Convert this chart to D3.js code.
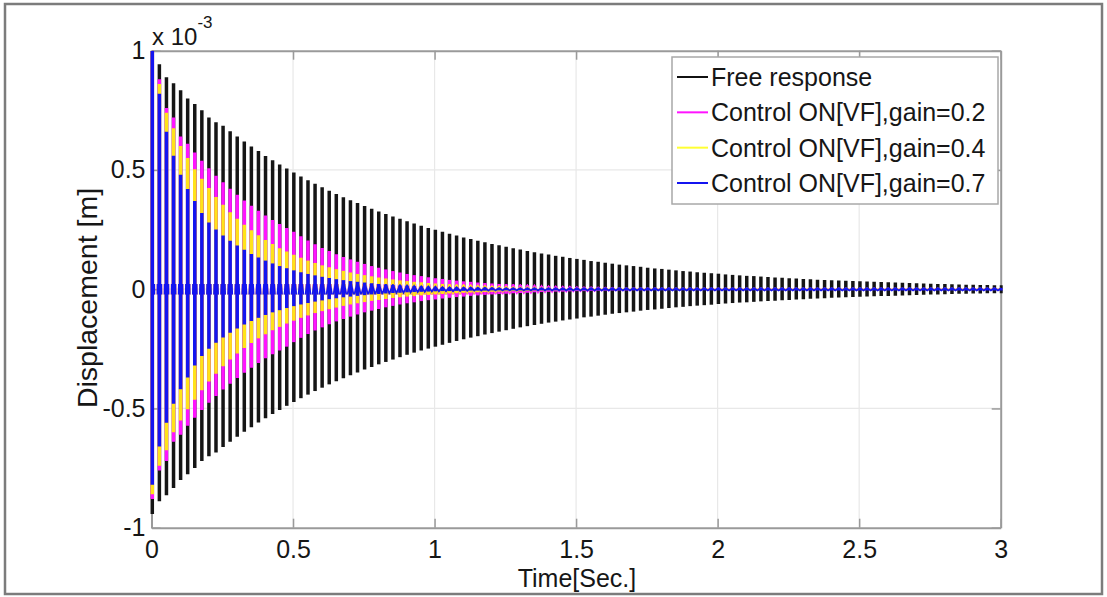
<!DOCTYPE html>
<html>
<head>
<meta charset="utf-8">
<script src="https://cdn.jsdelivr.net/npm/d3@7"></script>
<style>
  html, body { margin: 0; padding: 0; background: #fff; }
  svg { display: block; font-family: "Liberation Sans", Arial, Helvetica, sans-serif; }
</style>
</head>
<body>
<svg id="chart" width="1107" height="597"></svg>
<script>
// Peak displacement of each oscillation cycle (units of 1e-3 m), one value per cycle
const freeResponse = [
  1.000, 0.943, 0.889, 0.864, 0.834, 0.800, 0.776, 0.750, 0.720, 0.700,
  0.685, 0.662, 0.640, 0.619, 0.598, 0.579, 0.559, 0.541, 0.523, 0.506,
  0.489, 0.473, 0.457, 0.442, 0.427, 0.413, 0.399, 0.386, 0.373, 0.361,
  0.349, 0.337, 0.326, 0.315, 0.305, 0.295, 0.285, 0.275, 0.266, 0.257,
  0.249, 0.241, 0.233, 0.225, 0.217, 0.210, 0.203, 0.197, 0.190, 0.184,
  0.178, 0.172, 0.166, 0.160, 0.155, 0.150, 0.145, 0.140, 0.136, 0.131,
  0.127, 0.123, 0.118, 0.115, 0.111, 0.107, 0.103, 0.100, 0.097, 0.094,
  0.090, 0.087, 0.085, 0.082, 0.079, 0.076, 0.074, 0.071, 0.069, 0.067,
  0.065, 0.062, 0.060, 0.058, 0.056, 0.055, 0.053, 0.051, 0.049, 0.048,
  0.046, 0.045, 0.043, 0.042, 0.040, 0.039, 0.038, 0.036, 0.035, 0.034,
  0.033, 0.032, 0.031, 0.030, 0.029, 0.028, 0.027, 0.026, 0.025, 0.024,
  0.023, 0.022, 0.022, 0.021, 0.020, 0.019, 0.019, 0.018, 0.018, 0.017,
  0.017
];
const gain02 = [
  1.000, 0.880, 0.760, 0.720, 0.640, 0.610, 0.573, 0.539, 0.507, 0.476,
  0.448, 0.421, 0.396, 0.372, 0.350, 0.329, 0.309, 0.290, 0.273, 0.257,
  0.241, 0.222, 0.204, 0.188, 0.173, 0.160, 0.147, 0.135, 0.125, 0.115,
  0.106, 0.097, 0.090, 0.083, 0.076, 0.070, 0.064, 0.059, 0.055, 0.050,
  0.046, 0.043, 0.039, 0.036, 0.033, 0.031, 0.028, 0.026, 0.024, 0.022,
  0.020, 0.019, 0.017, 0.016, 0.015, 0.013, 0.012, 0.011, 0.010, 0.010,
  0.009, 0.008, 0.008, 0.007, 0.006, 0.006, 0.005, 0.005, 0.005, 0.004,
  0.004, 0.004, 0.003, 0.003, 0.003, 0.003, 0.003, 0.003, 0.003, 0.003,
  0.003, 0.003, 0.003, 0.003, 0.003, 0.003, 0.003, 0.003, 0.003, 0.003,
  0.003, 0.003, 0.003, 0.003, 0.003, 0.003, 0.003, 0.003, 0.003, 0.003,
  0.003, 0.003, 0.003, 0.003, 0.003, 0.003, 0.003, 0.003, 0.003, 0.003,
  0.003, 0.003, 0.003, 0.003, 0.003, 0.003, 0.003, 0.003, 0.003, 0.003,
  0.003
];
const gain04 = [
  1.000, 0.860, 0.740, 0.675, 0.600, 0.550, 0.503, 0.463, 0.424, 0.387,
  0.354, 0.323, 0.295, 0.270, 0.247, 0.226, 0.206, 0.189, 0.172, 0.158,
  0.144, 0.132, 0.120, 0.110, 0.100, 0.092, 0.084, 0.077, 0.070, 0.064,
  0.059, 0.054, 0.049, 0.045, 0.041, 0.037, 0.034, 0.031, 0.029, 0.026,
  0.024, 0.022, 0.020, 0.018, 0.017, 0.015, 0.014, 0.013, 0.012, 0.011,
  0.010, 0.009, 0.008, 0.008, 0.007, 0.006, 0.006, 0.005, 0.005, 0.004,
  0.004, 0.004, 0.004, 0.003, 0.003, 0.003, 0.003, 0.003, 0.003, 0.003,
  0.003, 0.003, 0.003, 0.003, 0.003, 0.003, 0.003, 0.003, 0.003, 0.003,
  0.003, 0.003, 0.003, 0.003, 0.003, 0.003, 0.003, 0.003, 0.003, 0.003,
  0.003, 0.003, 0.003, 0.003, 0.003, 0.003, 0.003, 0.003, 0.003, 0.003,
  0.003, 0.003, 0.003, 0.003, 0.003, 0.003, 0.003, 0.003, 0.003, 0.003,
  0.003, 0.003, 0.003, 0.003, 0.003, 0.003, 0.003, 0.003, 0.003, 0.003,
  0.003
];
const gain07 = [
  1.000, 0.820, 0.660, 0.560, 0.480, 0.420, 0.370, 0.320, 0.280, 0.250,
  0.225, 0.203, 0.183, 0.165, 0.148, 0.133, 0.120, 0.108, 0.097, 0.088,
  0.079, 0.071, 0.064, 0.058, 0.052, 0.047, 0.042, 0.038, 0.034, 0.031,
  0.028, 0.025, 0.022, 0.020, 0.018, 0.016, 0.015, 0.013, 0.012, 0.011,
  0.010, 0.009, 0.008, 0.008, 0.007, 0.007, 0.006, 0.006, 0.006, 0.005,
  0.005, 0.005, 0.005, 0.005, 0.005, 0.005, 0.005, 0.005, 0.005, 0.005,
  0.005, 0.005, 0.005, 0.005, 0.005, 0.005, 0.005, 0.005, 0.005, 0.005,
  0.005, 0.005, 0.005, 0.005, 0.005, 0.005, 0.005, 0.005, 0.005, 0.005,
  0.005, 0.005, 0.005, 0.005, 0.005, 0.005, 0.005, 0.005, 0.005, 0.005,
  0.005, 0.005, 0.005, 0.005, 0.005, 0.005, 0.005, 0.005, 0.005, 0.005,
  0.005, 0.005, 0.005, 0.005, 0.005, 0.005, 0.005, 0.005, 0.005, 0.005,
  0.005, 0.005, 0.005, 0.005, 0.005, 0.005, 0.005, 0.005, 0.005, 0.005,
  0.005
];
const cycleStep = 0.025;   // seconds between successive peaks (40 Hz)

const seriesNames = [
  "Free response",
  "Control ON[VF],gain=0.2",
  "Control ON[VF],gain=0.4",
  "Control ON[VF],gain=0.7"
];
const seriesColors = ["#151515", "#ff14ff", "#ffe31a", "#1414f0"];
const legendColors = ["#111111", "#ff14ff", "#ffff33", "#1414f0"];

const xTicks = [0, 0.5, 1, 1.5, 2, 2.5, 3];
const xTickLabels = ["0", "0.5", "1", "1.5", "2", "2.5", "3"];
const yTicks = [-1, -0.5, 0, 0.5, 1];
const yTickLabels = ["-1", "-0.5", "0", "0.5", "1"];

const svg = d3.select("#chart");
const axisColor = "#9a9a9a";
const textColor = "#161616";

// outer frame
svg.append("rect")
  .attr("x", 5).attr("y", 4).attr("width", 1097).attr("height", 590)
  .attr("fill", "#fff").attr("stroke", "#7c7c7c").attr("stroke-width", 2.5);

const x = d3.scaleLinear().domain([0, 3]).range([151.5, 1000.7]);
const y = d3.scaleLinear().domain([-1, 1]).range([527.7, 50.7]);

// grid
const grid = svg.append("g");
grid.selectAll("line.gx").data(xTicks.slice(1, -1)).join("line")
  .attr("class", "gx")
  .attr("x1", d => x(d)).attr("x2", d => x(d))
  .attr("y1", y(1)).attr("y2", y(-1))
  .attr("stroke", "#e8e8e8").attr("stroke-width", 1.2);
grid.selectAll("line.gy").data(yTicks.slice(1, -1)).join("line")
  .attr("class", "gy")
  .attr("x1", x(0)).attr("x2", x(3))
  .attr("y1", d => y(d)).attr("y2", d => y(d))
  .attr("stroke", "#e8e8e8").attr("stroke-width", 1.2);

// axes (box with inward ticks on all sides)
function styleAxis(g) {
  g.select(".domain").attr("stroke", axisColor).attr("stroke-width", 2);
  g.selectAll(".tick line").attr("stroke", axisColor).attr("stroke-width", 1.5);
  g.selectAll(".tick text").attr("fill", textColor)
    .style("font-size", "25px").style("font-family", "'Liberation Sans', Arial, sans-serif");
}
svg.append("g").attr("transform", `translate(0,${y(-1)})`)
  .call(d3.axisBottom(x).tickValues(xTicks).tickFormat((d, i) => xTickLabels[i])
    .tickSizeInner(-9).tickSizeOuter(0).tickPadding(13))
  .call(styleAxis);
svg.append("g").attr("transform", `translate(0,${y(1)})`)
  .call(d3.axisTop(x).tickValues(xTicks).tickFormat("")
    .tickSizeInner(-9).tickSizeOuter(0))
  .call(styleAxis);
svg.append("g").attr("transform", `translate(${x(0)},0)`)
  .call(d3.axisLeft(y).tickValues(yTicks).tickFormat((d, i) => yTickLabels[i])
    .tickSizeInner(-9).tickSizeOuter(0).tickPadding(6))
  .call(styleAxis);
svg.append("g").attr("transform", `translate(${x(3)},0)`)
  .call(d3.axisRight(y).tickValues(yTicks).tickFormat("")
    .tickSizeInner(-9).tickSizeOuter(0))
  .call(styleAxis);

// clip regions
const defs = svg.append("defs");
defs.append("clipPath").attr("id", "plotClip").append("rect")
  .attr("x", x(0) - 2).attr("y", y(1))
  .attr("width", x(3) - x(0) + 4).attr("height", y(-1) - y(1));
defs.append("clipPath").attr("id", "zeroBand").append("rect")
  .attr("x", x(0)).attr("y", y(0.022))
  .attr("width", x(3) - x(0)).attr("height", y(-0.022) - y(0.022));

const plot = svg.append("g").attr("clip-path", "url(#plotClip)");
const series = [freeResponse, gain02, gain04, gain07];

// trough that follows peak k: the next cycle's amplitude
const trough = (amps, k) => (k + 1 < amps.length ? amps[k + 1] : amps[k]);

series.forEach((amps, i) => {
  const g = plot.append("g");
  // each cycle: a stroke from the positive peak down to the following trough
  g.selectAll("line").data(amps).join("line")
    .attr("x1", (d, k) => x(k * cycleStep) + 0.8)
    .attr("x2", (d, k) => x(k * cycleStep) + 0.8)
    .attr("y1", d => y(d))
    .attr("y2", (d, k) => y(-trough(amps, k)))
    .attr("stroke", seriesColors[i])
    .attr("stroke-width", 3.5);
  if (i > 0) {
    // the trace itself near the rest position
    const pts = [];
    amps.forEach((d, k) => {
      pts.push([k * cycleStep, d]);
      if (k + 1 < amps.length) pts.push([(k + 0.5) * cycleStep, -trough(amps, k)]);
    });
    g.append("path")
      .attr("clip-path", "url(#zeroBand)")
      .attr("d", d3.line().x(p => x(p[0]) + 0.8).y(p => y(p[1]))(pts))
      .attr("fill", "none")
      .attr("stroke", seriesColors[i])
      .attr("stroke-width", 1.8);
  }
});

// exponent label
const expo = svg.append("text")
  .attr("x", 152).attr("y", 45)
  .attr("fill", textColor).style("font-size", "24px")
  .text("x 10");
expo.append("tspan").attr("dy", -17).style("font-size", "17px").text("-3");

// axis titles
svg.append("text")
  .attr("x", 577).attr("y", 587)
  .attr("text-anchor", "middle")
  .attr("fill", textColor).style("font-size", "25px")
  .text("Time[Sec.]");
svg.append("text")
  .attr("transform", "translate(97,298) rotate(-90)")
  .attr("text-anchor", "middle")
  .attr("fill", textColor).style("font-size", "28.5px")
  .text("Displacement [m]");

// legend
const legend = svg.append("g");
legend.append("rect")
  .attr("x", 672).attr("y", 57).attr("width", 326).attr("height", 147)
  .attr("fill", "#fff").attr("stroke", "#a8a8a8").attr("stroke-width", 1.5);
const rowY = d3.scalePoint().domain(d3.range(seriesNames.length)).range([77, 183]);
seriesNames.forEach((name, i) => {
  legend.append("line")
    .attr("x1", 677).attr("x2", 708)
    .attr("y1", rowY(i)).attr("y2", rowY(i))
    .attr("stroke", legendColors[i]).attr("stroke-width", 2);
  legend.append("text")
    .attr("x", 711).attr("y", rowY(i)).attr("dy", "0.36em")
    .attr("fill", textColor).style("font-size", "25px")
    .text(name);
});
</script>
</body>
</html>
